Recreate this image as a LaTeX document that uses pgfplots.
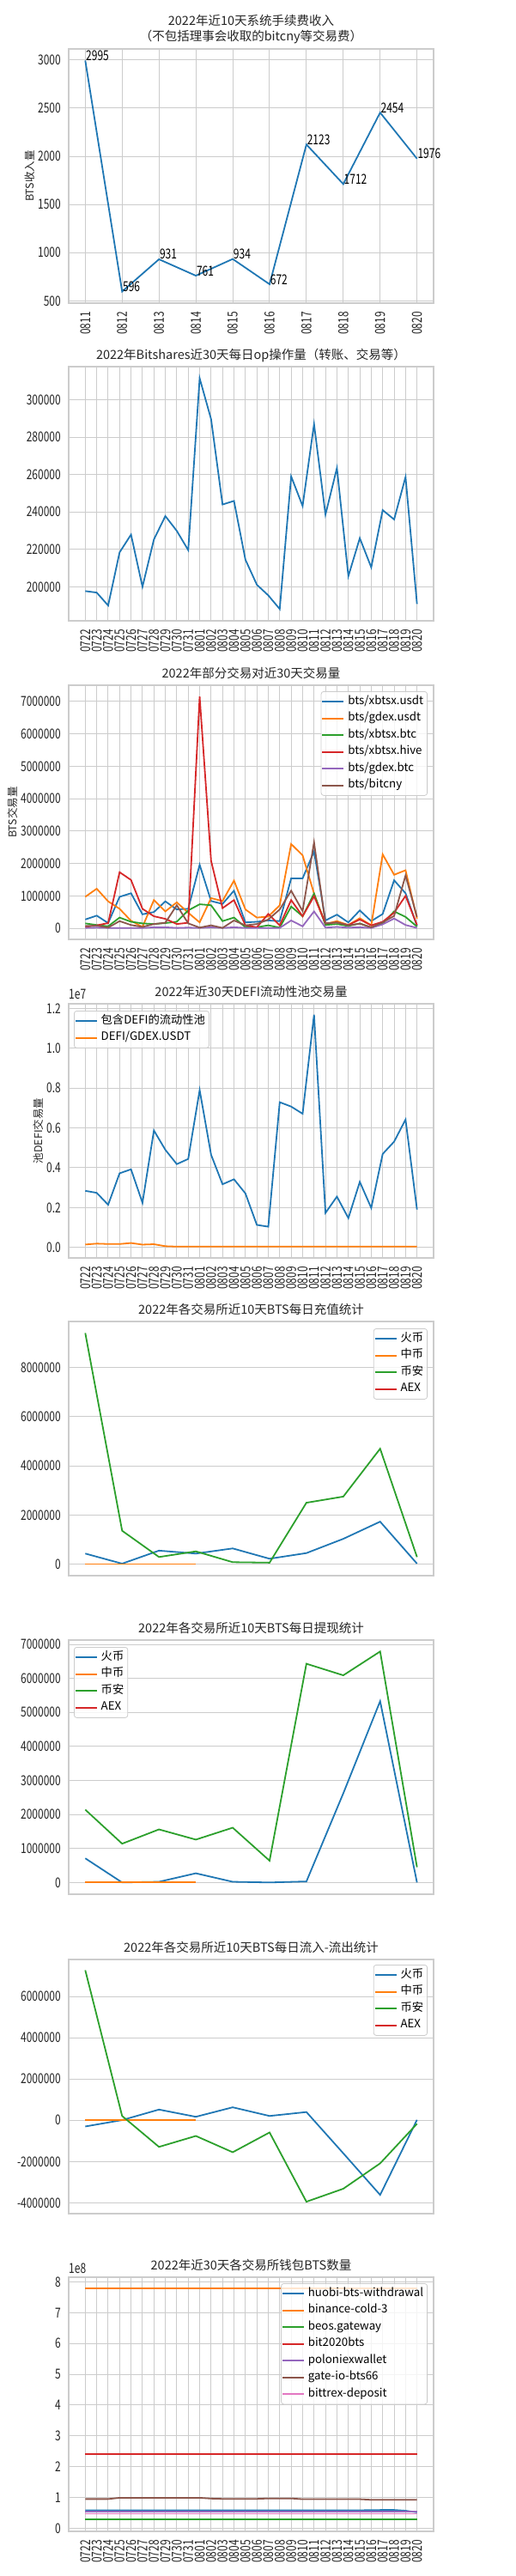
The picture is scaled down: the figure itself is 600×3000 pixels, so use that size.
\documentclass[border=0pt]{standalone}
\usepackage{fontspec}
\setmainfont{Noto Sans CJK SC}
\newfontfamily\numfam[FakeStretch=0.75]{Noto Sans CJK SC}
\usepackage{pgfplots}
\pgfplotsset{compat=1.18}
\usepackage{pgfplotstable}

\definecolor{c0}{HTML}{1F77B4}
\definecolor{c1}{HTML}{FF7F0E}
\definecolor{c2}{HTML}{2CA02C}
\definecolor{c3}{HTML}{D62728}
\definecolor{c4}{HTML}{9467BD}
\definecolor{c5}{HTML}{8C564B}
\definecolor{c6}{HTML}{E377C2}
\definecolor{gridc}{HTML}{CCCCCC}

\newcommand\tickfont{\numfam\fontsize{16}{18}\selectfont}
\newcommand\legfont{\fontsize{13.3}{15}\selectfont}
\newcommand\labfont{\fontsize{12.5}{14}\selectfont}
\newcommand\titlefont{\fontsize{14.5}{18.4}\selectfont}

\pgfplotstableread{
x v
0 2995
1 596
2 931
3 761
4 934
5 672
6 2123
7 1712
8 2454
9 1976
}\fee

\pgfplotstableread{
x v
0 197700
1 196900
2 190000
3 218400
4 227900
5 200000
6 225300
7 237800
8 229900
9 219600
10 311500
11 289600
12 244000
13 245900
14 214500
15 201100
16 195400
17 188100
18 259000
19 243200
20 287000
21 238600
22 263500
23 205700
24 226000
25 210400
26 241000
27 236000
28 258700
29 190800
}\ops

\pgfplotstableread{
x usdt gusdt btc hive gbtc cny
0 270000 970000 150000 40000 10000 70000
1 390000 1220000 100000 90000 20000 80000
2 160000 830000 60000 160000 10000 20000
3 970000 600000 330000 1730000 10000 220000
4 1080000 230000 200000 1490000 10000 100000
5 430000 40000 150000 600000 10000 40000
6 500000 870000 130000 370000 30000 130000
7 830000 520000 160000 290000 30000 170000
8 580000 800000 200000 130000 10000 710000
9 600000 480000 550000 170000 20000 150000
10 1960000 180000 740000 7150000 10000 20000
11 840000 930000 710000 2080000 30000 90000
12 750000 840000 220000 620000 10000 10000
13 1160000 1470000 330000 870000 30000 240000
14 180000 580000 30000 90000 10000 90000
15 200000 330000 30000 30000 10000 130000
16 240000 360000 90000 440000 10000 270000
17 220000 710000 20000 90000 10000 580000
18 1540000 2600000 670000 870000 240000 1160000
19 1540000 2250000 370000 370000 60000 530000
20 2370000 1070000 1070000 990000 520000 2650000
21 240000 130000 100000 150000 20000 150000
22 420000 220000 130000 180000 40000 180000
23 180000 100000 70000 100000 20000 90000
24 550000 310000 150000 270000 30000 140000
25 220000 90000 20000 90000 10000 30000
26 440000 2280000 150000 200000 120000 180000
27 1480000 1650000 520000 480000 300000 380000
28 1080000 1790000 350000 1000000 100000 1630000
29 70000 300000 50000 100000 10000 350000
}\pairs

\pgfplotstableread{
x pool gdex
0 2840000 144000
1 2740000 190000
2 2140000 170000
3 3720000 170000
4 3920000 220000
5 2240000 140000
6 5870000 160000
7 4900000 60000
8 4180000 40000
9 4440000 40000
10 7900000 40000
11 4650000 40000
12 3170000 40000
13 3420000 40000
14 2710000 40000
15 1130000 40000
16 1040000 40000
17 7290000 40000
18 7070000 40000
19 6710000 40000
20 11680000 40000
21 1730000 40000
22 2550000 40000
23 1470000 40000
24 3290000 40000
25 1980000 40000
26 4690000 40000
27 5310000 40000
28 6420000 40000
29 1900000 40000
}\defi

\pgfplotstableread{
x huobi binance
0 430000 9410000
1 20000 1360000
2 550000 290000
3 430000 520000
4 640000 80000
5 220000 60000
6 450000 2500000
7 1030000 2750000
8 1730000 4700000
9 20000 290000
}\deposit

\pgfplotstableread{
x huobi binance
0 710000 2140000
1 0 1140000
2 20000 1560000
3 270000 1260000
4 20000 1610000
5 0 640000
6 30000 6430000
7 2620000 6090000
8 5330000 6790000
9 0 450000
}\withdraw

\pgfplotstableread{
x huobi binance
0 -300000 7280000
1 10000 210000
2 520000 -1290000
3 170000 -760000
4 630000 -1550000
5 210000 -590000
6 400000 -3950000
7 -1600000 -3320000
8 -3620000 -2090000
9 20000 -170000
}\netflow

\pgfplotstableread{
x zb
0 0
1 0
2 0
3 0
}\zb

\pgfplotstableread{
x huobi binance beos bit gate polo bittrex
0 58500000 779000000 29000000 241000000 95000000 54000000 47000000
1 58500000 779000000 29000000 241000000 95000000 54000000 47000000
2 58500000 779000000 29000000 241000000 95000000 54000000 47000000
3 58500000 779000000 29000000 241000000 99000000 54000000 47000000
4 58500000 779000000 29000000 241000000 99000000 54000000 47000000
5 58500000 779000000 29000000 241000000 99000000 54000000 47000000
6 58500000 779000000 29000000 241000000 99000000 54000000 47000000
7 58500000 779000000 29000000 241000000 99000000 54000000 47000000
8 58500000 779000000 29000000 241000000 99000000 54000000 47000000
9 58500000 779000000 29000000 241000000 99000000 54000000 47000000
10 58500000 779000000 29000000 241000000 99000000 54000000 47000000
11 58500000 779000000 29000000 241000000 96500000 54000000 47000000
12 58500000 779000000 29000000 241000000 95500000 54000000 47000000
13 58500000 779000000 29000000 241000000 95500000 54000000 47000000
14 58500000 779000000 29000000 241000000 95500000 54000000 47000000
15 58500000 779000000 29000000 241000000 95500000 54000000 47000000
16 58500000 779000000 29000000 241000000 97000000 54000000 47000000
17 58500000 779000000 29000000 241000000 97000000 54000000 47000000
18 58500000 779000000 29000000 241000000 97000000 54000000 47000000
19 58500000 779000000 29000000 241000000 94500000 54000000 47000000
20 58500000 779000000 29000000 241000000 94500000 54000000 47000000
21 58500000 779000000 29000000 241000000 94500000 54000000 47000000
22 58500000 779000000 29000000 241000000 94500000 54000000 47000000
23 58500000 779000000 29000000 241000000 94500000 54000000 47000000
24 58500000 779000000 29000000 241000000 94500000 54000000 47000000
25 59000000 779000000 29000000 241000000 92500000 54000000 47000000
26 59500000 779000000 29000000 241000000 92500000 54000000 47000000
27 59500000 779000000 29000000 241000000 92500000 54000000 47000000
28 57000000 779000000 29000000 241000000 92500000 54000000 47000000
29 52000000 779000000 29000000 241000000 92500000 54000000 47000000
}\wallets

\pgfplotsset{
  base/.style={
    scale only axis, width=425pt, height=296pt,
    axis line style={draw=gridc, line width=1.2pt},
    major tick length=0pt, minor tick length=0pt,
    ymajorgrids,
    grid style={draw=gridc, line width=1pt},
    tick label style={font=\tickfont, text=black!85},
    /pgf/number format/fixed,
    /pgf/number format/1000 sep={},
    /pgf/number format/assume math mode=true,
    scaled ticks=false,
    yticklabel style={inner sep=0pt},
    yticklabel shift=9pt,
    every axis title/.style={at={(0.5,1)}, anchor=base, inner sep=0pt, yshift=9pt, font=\titlefont, text=black!85},
    every axis y label/.append style={font=\labfont, text=black!85},
    legend style={font=\legfont, draw=gridc, line width=0.8pt, rounded corners=3pt, fill=white, fill opacity=0.8, text opacity=1, inner xsep=0.5pt, inner ysep=2pt, nodes={inner xsep=4pt, inner ysep=3.5pt, text height=9.5pt, text depth=3pt}},
    legend cell align=left,
    legend image code/.code={\draw[#1, line width=1.8pt, opacity=1] (0pt,0pt) -- (25pt,0pt);},
    every axis plot/.append style={line width=1.8pt, mark=none},
  },
  dates30/.style={
    xtick={0,...,29},
    xticklabels={0722,0723,0724,0725,0726,0727,0728,0729,0730,0731,0801,0802,0803,0804,0805,0806,0807,0808,0809,0810,0811,0812,0813,0814,0815,0816,0817,0818,0819,0820},
    xmin=-1.45, xmax=30.45, xmajorgrids,
    xticklabel style={rotate=90, anchor=east, inner sep=0pt},
    xticklabel shift=10pt,
  },
  ten/.style={xmin=-0.45, xmax=9.45, xtick=\empty},
}

\begin{document}
\begin{tikzpicture}
\useasboundingbox (0pt,0pt) rectangle (600pt,-3000pt);
\fill[white] (0pt,0pt) rectangle (600pt,-3000pt);

% 1
\begin{axis}[base, at={(80pt,-57pt)}, anchor=north west,
  xmin=-0.45, xmax=9.45, xtick={0,...,9},
  xticklabels={0811,0812,0813,0814,0815,0816,0817,0818,0819,0820},
  xmajorgrids,
  xticklabel style={rotate=90, anchor=east, inner sep=0pt},
  xticklabel shift=10pt,
  ymin=476, ymax=3115, ytick={500,1000,1500,2000,2500,3000},
  ylabel={BTS收入量},
  every axis title/.style={at={(0.5,1)}, anchor=south, align=center, inner sep=0pt, yshift=6pt, font=\titlefont, text=black!85},
  title={2022年近10天系统手续费收入\\（不包括理事会收取的bitcny等交易费）},
]
\addplot[c0, nodes near coords,
  every node near coord/.append style={font=\tickfont, anchor=base west, inner sep=0pt, text=black}]
  table[x=x, y=v] {\fee};
\end{axis}

% 2
\begin{axis}[base, dates30, at={(80pt,-427pt)}, anchor=north west,
  ymin=181800, ymax=317700,
  ytick={200000,220000,240000,260000,280000,300000},
  title={2022年Bitshares近30天每日op操作量（转账、交易等）},
]
\addplot[c0] table[x=x, y=v] {\ops};
\end{axis}

% 3
\begin{axis}[base, dates30, at={(80pt,-798pt)}, anchor=north west,
  ymin=-344000, ymax=7500000,
  ytick={0,1000000,2000000,3000000,4000000,5000000,6000000,7000000},
  ylabel={BTS交易量},
  title={2022年部分交易对近30天交易量},
  legend style={at={(1,1)}, anchor=north east, xshift=-7pt, yshift=-7pt},
]
\addplot[c0] table[x=x, y=usdt] {\pairs}; \addlegendentry{bts/xbtsx.usdt}
\addplot[c1] table[x=x, y=gusdt] {\pairs}; \addlegendentry{bts/gdex.usdt}
\addplot[c2] table[x=x, y=btc] {\pairs}; \addlegendentry{bts/xbtsx.btc}
\addplot[c3] table[x=x, y=hive] {\pairs}; \addlegendentry{bts/xbtsx.hive}
\addplot[c4] table[x=x, y=gbtc] {\pairs}; \addlegendentry{bts/gdex.btc}
\addplot[c5] table[x=x, y=cny] {\pairs}; \addlegendentry{bts/bitcny}
\end{axis}

% 4
\begin{axis}[base, dates30, at={(80pt,-1169pt)}, anchor=north west,
  ymin=-530000, ymax=12230000,
  ytick={0,2000000,4000000,6000000,8000000,10000000,12000000},
  scaled y ticks=base 10:-7,
  ytick scale label code/.code={1e7},
  every y tick scale label/.style={at={(rel axis cs:0,1)}, anchor=base west, inner sep=0pt, yshift=6pt, font=\tickfont, text=black!85},
  yticklabel style={/pgf/number format/fixed zerofill, /pgf/number format/precision=1},
  ylabel={池DEFI交易量},
  title={2022年近30天DEFI流动性池交易量},
  legend style={at={(0,1)}, anchor=north west, xshift=6pt, yshift=-8pt},
]
\addplot[c0] table[x=x, y=pool] {\defi}; \addlegendentry{包含DEFI的流动性池}
\addplot[c1] table[x=x, y=gdex] {\defi}; \addlegendentry{DEFI/GDEX.USDT}
\end{axis}

% 5
\begin{axis}[base, ten, at={(80pt,-1539pt)}, anchor=north west,
  ymin=-470000, ymax=9880000,
  ytick={0,2000000,4000000,6000000,8000000},
  title={2022年各交易所近10天BTS每日充值统计},
  legend style={at={(1,1)}, anchor=north east, xshift=-7pt, yshift=-8pt},
]
\addplot[c0] table[x=x, y=huobi] {\deposit}; \addlegendentry{火币}
\addplot[c1] table[x=x, y=zb] {\zb}; \addlegendentry{中币}
\addplot[c2] table[x=x, y=binance] {\deposit}; \addlegendentry{币安}
\addlegendimage{c3, line width=1.8pt} \addlegendentry{AEX}
\end{axis}

% 6
\begin{axis}[base, ten, at={(80pt,-1910pt)}, anchor=north west,
  ymin=-346000, ymax=7126000,
  ytick={0,1000000,2000000,3000000,4000000,5000000,6000000,7000000},
  title={2022年各交易所近10天BTS每日提现统计},
  legend style={at={(0,1)}, anchor=north west, xshift=6pt, yshift=-8pt},
]
\addplot[c0] table[x=x, y=huobi] {\withdraw}; \addlegendentry{火币}
\addplot[c1] table[x=x, y=zb] {\zb}; \addlegendentry{中币}
\addplot[c2] table[x=x, y=binance] {\withdraw}; \addlegendentry{币安}
\addlegendimage{c3, line width=1.8pt} \addlegendentry{AEX}
\end{axis}

% 7
\begin{axis}[base, ten, at={(80pt,-2282pt)}, anchor=north west,
  ymin=-4530000, ymax=7800000,
  ytick={-4000000,-2000000,0,2000000,4000000,6000000},
  title={2022年各交易所近10天BTS每日流入-流出统计},
  legend style={at={(1,1)}, anchor=north east, xshift=-7pt, yshift=-6pt},
]
\addplot[c0] table[x=x, y=huobi] {\netflow}; \addlegendentry{火币}
\addplot[c1] table[x=x, y=zb] {\zb}; \addlegendentry{中币}
\addplot[c2] table[x=x, y=binance] {\netflow}; \addlegendentry{币安}
\addlegendimage{c3, line width=1.8pt} \addlegendentry{AEX}
\end{axis}

% 8
\begin{axis}[base, dates30, at={(80pt,-2652pt)}, anchor=north west,
  ymin=-10000000, ymax=815000000,
  ytick={0,100000000,200000000,300000000,400000000,500000000,600000000,700000000,800000000},
  scaled y ticks=base 10:-8,
  ytick scale label code/.code={1e8},
  every y tick scale label/.style={at={(rel axis cs:0,1)}, anchor=base west, inner sep=0pt, yshift=5pt, font=\tickfont, text=black!85},
  title={2022年近30天各交易所钱包BTS数量},
  legend style={at={(1,1)}, anchor=north east, xshift=-7pt, yshift=-7pt},
]
\addplot[c0] table[x=x, y=huobi] {\wallets}; \addlegendentry{huobi-bts-withdrawal}
\addplot[c1] table[x=x, y=binance] {\wallets}; \addlegendentry{binance-cold-3}
\addplot[c2] table[x=x, y=beos] {\wallets}; \addlegendentry{beos.gateway}
\addplot[c3] table[x=x, y=bit] {\wallets}; \addlegendentry{bit2020bts}
\addplot[c4] table[x=x, y=polo] {\wallets}; \addlegendentry{poloniexwallet}
\addplot[c5] table[x=x, y=gate] {\wallets}; \addlegendentry{gate-io-bts66}
\addplot[c6] table[x=x, y=bittrex] {\wallets}; \addlegendentry{bittrex-deposit}
\end{axis}
\end{tikzpicture}
\end{document}
